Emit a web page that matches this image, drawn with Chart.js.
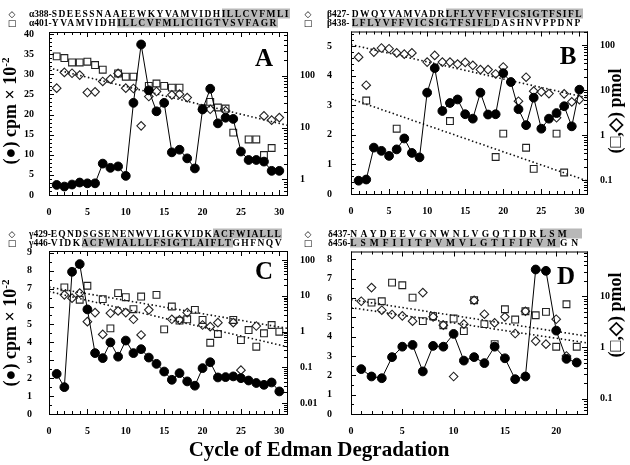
<!DOCTYPE html>
<html>
<head>
<meta charset="utf-8">
<script src="https://cdn.jsdelivr.net/npm/chart.js@4/dist/chart.umd.min.js"></script>
<style>
body { margin: 0; background: #fff; width: 630px; height: 465px; position: relative; overflow: hidden;
       font-family: "Liberation Serif", serif; font-weight: bold; color: #000; }
canvas { position: absolute; left: 0; top: 0; }
.seq { position: absolute; font-size: 9.5px; line-height: 9px; white-space: nowrap; transform: translateY(-50%); }
.seq .pre { letter-spacing: 0; }
.seq .hl { background: #b8b8b8; }
.sym { position: absolute; font-family: "DejaVu Sans", sans-serif; font-weight: normal; font-size: 9px; line-height: 9px; transform: translate(-50%, -50%); }
.lbl { position: absolute; white-space: nowrap; transform: translate(-50%, -50%); }
.rot { transform: translate(-50%, -50%) rotate(-90deg); }
.panel { font-size: 25px; }
.ytitle { font-size: 18px; }
.ytitle sup { font-size: 11px; }
</style>
</head>
<body>
<canvas id="cA" width="630" height="465"></canvas>
<canvas id="cB" width="630" height="465"></canvas>
<canvas id="cC" width="630" height="465"></canvas>
<canvas id="cD" width="630" height="465"></canvas>

<!-- sequenze sopra i pannelli -->
<div class="seq" data-w="261" style="left:29px;top:14px"><span class="pre">α388-</span><span class="s">SDEESSNAAEEWKYVAMVIDH<span class="hl">ILLCVFMLI</span></span></div>
<div class="seq" data-w="249" style="left:29px;top:23px"><span class="pre">α401-</span><span class="s">YVAMVIDH<span class="hl">ILLCVFMLICIIGTVSVFAGR</span></span></div>
<div class="seq" data-w="256" style="left:327px;top:14px"><span class="pre">β427- </span><span class="s">DWQYVAMVADR<span class="hl">LFLYVFFVICSIGTFSIFL</span></span></div>
<div class="seq" data-w="255" style="left:327px;top:22.5px"><span class="pre">β438- </span><span class="s"><span class="hl">LFLYVFFVICSIGTFSIFL</span>DASHNVPPDNP</span></div>
<div class="seq" data-w="253" style="left:29px;top:234px"><span class="pre">γ429-</span><span class="s">EQNDSGSENENWVLIGKVIDK<span class="hl">ACFWIALLL</span></span></div>
<div class="seq" data-w="254" style="left:29px;top:242.5px"><span class="pre">γ446-</span><span class="s">VIDK<span class="hl">ACFWIALLLFSIGTLAIFLT</span>GHFNQV</span></div>
<div class="seq" data-w="254" style="left:328px;top:234px"><span class="pre">δ437-</span><span class="s">NAYDEEVGNWNLVGQTIDR<span class="hl" style="padding-right:12px">LSM</span></span></div>
<div class="seq" data-w="254" style="left:328px;top:242.5px"><span class="pre">δ456-</span><span class="s"><span class="hl">LSMFIIITPVMVLGTIFIFVM</span>GN</span></div>

<div class="sym" style="left:12px;top:14px">◇</div>
<div class="sym" style="left:12px;top:23px">□</div>
<div class="sym" style="left:308px;top:14px">◇</div>
<div class="sym" style="left:308px;top:23px">□</div>
<div class="sym" style="left:12px;top:234px">◇</div>
<div class="sym" style="left:12px;top:243px">□</div>
<div class="sym" style="left:308px;top:234px">◇</div>
<div class="sym" style="left:308px;top:243px">□</div>

<div class="lbl panel" style="left:264px;top:58px">A</div>
<div class="lbl panel" style="left:568px;top:56px">B</div>
<div class="lbl panel" style="left:264px;top:271px">C</div>
<div class="lbl panel" style="left:566px;top:276px">D</div>

<div class="lbl rot ytitle" style="left:10px;top:111px">(●) cpm × 10<sup>-2</sup></div>
<div class="lbl rot ytitle" style="left:10px;top:333px">(●) cpm × 10<sup>-2</sup></div>
<div class="lbl rot ytitle" style="left:615px;top:111px">(□,◇) pmol</div>
<div class="lbl rot ytitle" style="left:615px;top:315px">(□,◇) pmol</div>
<div class="lbl" style="left:319px;top:449px;font-size:21px">Cycle of Edman Degradation</div>

<script>
// cicli
const cycles30 = [1,2,3,4,5,6,7,8,9,10,11,12,13,14,15,16,17,18,19,20,21,22,23,24,25,26,27,28,29,30];
const cycles22 = [1,2,3,4,5,6,7,8,9,10,11,12,13,14,15,16,17,18,19,20,21,22];

// tick labels
const xTicks30 = [0,5,10,15,20,25,30];
const xTicks20 = [0,5,10,15,20];
const yTicksA = [0,5,10,15,20,25,30,35,40];
const yTicksB = [0,1,2,3,4,5];
const yTicksC = [0,1,2,3,4,5,6,7,8,9];
const yTicksD = [0,1,2,3,4,5,6,7,8];
const logTicksA = [1,10,100];
const logTicksB = [0.1,1,10,100];
const logTicksC = [0.01,0.1,1,10,100];
const logTicksD = [0.1,1,10];

// pannello A (alpha)
const circlesA = [2.5,2.1,2.6,3.1,2.9,2.9,7.8,6.75,7.1,4.75,22.9,37.4,26,20.8,22.9,10.6,11.25,9.1,6.6,21.25,26.4,17.8,19.2,18.9,10.8,8.7,8.7,8.3,6,6];
const diamondsA = [57.7,116,112,103,47.6,49,77.7,86,111,57.7,56.9,10.8,39.8,49.7,null,42.9,44.2,38,null,22.6,22.6,null,21,null,null,null,null,16.8,13.9,15.6];
const squaresA = [237,220,181,181,187,161,131,null,111,96,96,null,64,71,64,59,59,null,null,23.7,31.4,24.4,23.3,8.0,null,5.9,5.9,2.96,4.04,null];
const fitDiamondsA = [141, 11.1];

// pannello B (beta)
const circlesB = [0.45,0.49,1.57,1.46,1.29,1.51,1.88,1.39,1.24,3.43,4.26,2.81,3.08,3.2,2.7,2.55,3.43,2.69,2.7,4.09,3.79,2.87,2.33,3.26,2.21,2.55,2.74,2.97,2.29,3.53];
const diamondsB = [54,12.9,70,86,83,67,63,67,null,42,59,42,42,38,41.5,35.6,28.6,28.6,22.9,32.7,null,5.7,19.4,9.5,9.2,8.4,2.45,8.3,5.5,6.2];
const squaresB = [null,5.9,null,null,null,1.4,null,null,null,null,null,null,2.07,null,null,null,null,null,0.33,1.09,null,null,0.53,0.18,null,null,1.09,0.15,null,null];
const fitDiamondsB = [102, 6.8];
const fitSquaresB = [6.4, 0.098];

// pannello C (gamma)
const circlesC = [2.24,1.5,7.94,8.37,5.84,3.4,3.12,4.0,3.2,4.1,3.4,3.62,3.15,2.8,2.37,1.91,2.28,1.82,1.58,2.56,2.89,2.04,2.06,2.1,2.0,1.87,1.73,1.63,1.76,1.26];
const diamondsC = [null,10.7,8.65,12,1.91,3.42,0.84,3.28,3.81,3.42,2.22,0.81,4.07,null,null,2.22,2.13,3.42,null,1.54,1.38,1.79,null,1.79,0.084,null,1.44,null,null,null];
const squaresC = [null,17.3,null,7.8,19.2,null,8.1,1.24,12,9.2,4.25,9.6,null,10.7,1.16,5.05,2.04,2.22,4.07,2.13,0.49,0.86,null,2.13,0.58,1.11,0.38,0.9,1.54,1.0];
const fitSquaresC = [17.6, 1.24];
const fitDiamondsC = [13.3, 0.38];

// pannello D (delta)
const circlesD = [2.32,1.94,1.85,2.94,3.48,3.57,2.2,3.52,3.48,4.14,2.76,2.94,2.63,3.48,2.88,1.8,1.94,7.47,7.4,4.31,2.85,2.66];
const diamondsD = [8.0,14.8,5.34,4.4,4.14,3.26,11.8,3.96,2.72,0.27,2.85,8.36,4.46,3.02,3.96,1.87,5.1,1.33,1.16,3.56,0.68,null];
const squaresD = [null,7.5,8.0,18.5,16.4,9.4,3.26,4.08,2.72,3.67,2.08,8.36,2.85,1.16,5.58,3.51,5.1,4.26,4.95,1.03,6.98,1.03];
const fitSquaresD = [8.6, 1.66];
const fitDiamondsD = [6.0, 1.23];

Chart.defaults.font.family = '"Liberation Serif", serif';
Chart.defaults.font.weight = 'bold';
Chart.defaults.font.size = 10;
Chart.defaults.color = '#000';
Chart.defaults.animation = false;

// tacche rivolte verso l'interno + cornice
const inTicks = {
    id: 'inTicks',
    afterDraw(chart, args, o) {
        const { ctx, chartArea: a, scales } = chart;
        ctx.save();
        ctx.strokeStyle = '#000';
        ctx.lineWidth = 1;
        ctx.strokeRect(a.left + 0.5, a.top + 0.5, a.right - a.left, a.bottom - a.top);
        ctx.beginPath();
        const x = scales.x;
        for (let v = 0; v <= x.max; v++) {
            const px = Math.round(x.getPixelForValue(v)) + 0.5;
            const len = v % 5 === 0 ? 5 : 3;
            ctx.moveTo(px, a.bottom); ctx.lineTo(px, a.bottom - len);
            ctx.moveTo(px, a.top); ctx.lineTo(px, a.top + len);
        }
        const y = scales.y;
        for (let i = 0; i * o.yMinor <= y.max + 1e-9; i++) {
            const v = i * o.yMinor;
            const py = Math.round(y.getPixelForValue(v)) + 0.5;
            const major = Math.abs(v / o.yMajor - Math.round(v / o.yMajor)) < 1e-6;
            ctx.moveTo(a.left, py); ctx.lineTo(a.left + (major ? 5 : 3), py);
        }
        const y2 = scales.y2;
        for (let e = Math.floor(Math.log10(y2.min)); e <= Math.ceil(Math.log10(y2.max)); e++) {
            for (let k = 1; k <= 9; k++) {
                const v = k * Math.pow(10, e);
                if (v < y2.min || v > y2.max) continue;
                const py = Math.round(y2.getPixelForValue(v)) + 0.5;
                ctx.moveTo(a.right, py); ctx.lineTo(a.right - (k === 1 ? 5 : 3), py);
            }
        }
        ctx.stroke();
        ctx.restore();
    }
};

function setTicks(list) {
    return scale => { scale.ticks = list.map(v => ({ value: v })); };
}

function makePanel(id, p) {
    const pts = ys => ys.map((v, i) => ({ x: p.cycles[i], y: v }));
    const fit = f => [{ x: 0, y: f[0] }, { x: p.xMax, y: f[1] }];
    const datasets = [{
        data: pts(p.circles), yAxisID: 'y', order: 0,
        borderColor: '#000', borderWidth: 1, tension: 0,
        pointRadius: 4.4, pointBackgroundColor: '#000', pointBorderColor: '#000'
    }, {
        data: pts(p.diamonds), yAxisID: 'y2', order: 1, showLine: false,
        pointStyle: 'rectRot', pointRadius: 4.3, pointBorderWidth: 1.1,
        pointBorderColor: '#222', pointBackgroundColor: 'rgba(255,255,255,0)'
    }, {
        data: pts(p.squares), yAxisID: 'y2', order: 2, showLine: false,
        pointStyle: 'rect', pointRadius: 4.8, pointBorderWidth: 1.1,
        pointBorderColor: '#222', pointBackgroundColor: 'rgba(255,255,255,0)'
    }];
    p.fits.forEach(f => datasets.push({
        data: fit(f), yAxisID: 'y2', order: 3, pointRadius: 0,
        borderColor: '#111', borderWidth: 1.6, borderDash: [1.5, 2.5]
    }));

    new Chart(document.getElementById(id), {
        type: 'line',
        data: { datasets: datasets },
        options: {
            responsive: false,
            layout: { padding: {
                left: p.left - 30, right: 630 - p.right - 30,
                top: p.top, bottom: 465 - p.bottom - 20 } },
            plugins: { legend: { display: false }, tooltip: { enabled: false },
                       inTicks: { yMajor: p.yMajor, yMinor: p.yMinor } },
            scales: {
                x: {
                    type: 'linear', min: 0, max: p.xMax,
                    afterBuildTicks: setTicks(p.xTicks),
                    afterFit: s => { s.height = 20; },
                    grid: { display: false }, border: { display: false },
                    ticks: { padding: 3, autoSkip: false, maxRotation: 0 }
                },
                y: {
                    position: 'left', min: 0, max: p.yMax,
                    afterBuildTicks: setTicks(p.yTicks),
                    afterFit: s => { s.width = 30; },
                    grid: { display: false }, border: { display: false },
                    ticks: { padding: p.padL, autoSkip: false }
                },
                y2: {
                    type: 'logarithmic', position: 'right', min: p.logMin, max: p.logMax,
                    afterBuildTicks: setTicks(p.logTicks),
                    afterFit: s => { s.width = 30; },
                    grid: { display: false }, border: { display: false },
                    ticks: { padding: 5, autoSkip: false, callback: v => String(v) }
                }
            }
        },
        plugins: [inTicks]
    });
}

makePanel('cA', {
    cycles: cycles30, circles: circlesA, diamonds: diamondsA, squares: squaresA, fits: [fitDiamondsA],
    xMax: 31, xTicks: xTicks30, yMax: 40.5, yTicks: yTicksA, yMajor: 5, yMinor: 1,
    logMin: 0.5, logMax: 700, logTicks: logTicksA,
    left: 49, right: 287, top: 32, bottom: 195, padL: 7
});
makePanel('cB', {
    cycles: cycles30, circles: circlesB, diamonds: diamondsB, squares: squaresB, fits: [fitDiamondsB, fitSquaresB],
    xMax: 31, xTicks: xTicks30, yMax: 5.5, yTicks: yTicksB, yMajor: 1, yMinor: 0.2,
    logMin: 0.05, logMax: 200, logTicks: logTicksB,
    left: 351, right: 587, top: 31.5, bottom: 194, padL: 11
});
makePanel('cC', {
    cycles: cycles30, circles: circlesC, diamonds: diamondsC, squares: squaresC, fits: [fitSquaresC, fitDiamondsC],
    xMax: 31, xTicks: xTicks30, yMax: 9.1, yTicks: yTicksC, yMajor: 1, yMinor: 0.5,
    logMin: 0.005, logMax: 180, logTicks: logTicksC,
    left: 49, right: 287, top: 251, bottom: 414, padL: 9
});
makePanel('cD', {
    cycles: cycles22, circles: circlesD, diamonds: diamondsD, squares: squaresD, fits: [fitSquaresD, fitDiamondsD],
    xMax: 23, xTicks: xTicks20, yMax: 8.4, yTicks: yTicksD, yMajor: 1, yMinor: 0.5,
    logMin: 0.05, logMax: 75, logTicks: logTicksD,
    left: 351, right: 587, top: 251.5, bottom: 414, padL: 11
});

// allarga le sequenze fino alla larghezza voluta (il prefisso resta compatto)
document.querySelectorAll('.seq').forEach(el => {
    const target = parseFloat(el.dataset.w);
    const s = el.querySelector('.s');
    const n = s.textContent.length;
    const natural = el.getBoundingClientRect().width;
    s.style.letterSpacing = ((target - natural) / n) + 'px';
});
</script>
</body>
</html>
